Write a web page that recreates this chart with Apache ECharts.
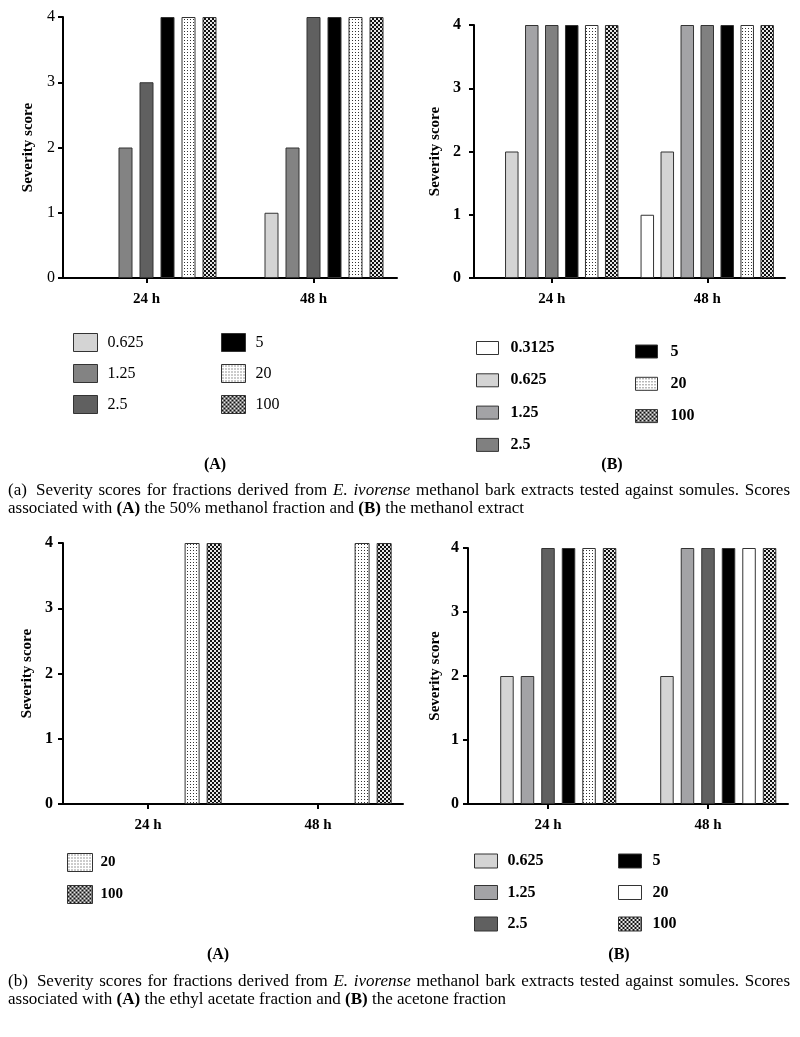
<!DOCTYPE html>
<html><head><meta charset="utf-8">
<script src="https://cdn.jsdelivr.net/npm/echarts@6/dist/echarts.min.js"></script>
<style>html,body{margin:0;padding:0;background:#fff}#c{width:800px;height:1037px}</style>
</head><body><div id="c"></div>
<script>
// ---------------- data ----------------
const categories = ['24 h', '48 h'];
const concentrations = ['0.3125', '0.625', '1.25', '2.5', '5', '20', '100'];
const yTicks = [0, 1, 2, 3, 4];
// severity score per concentration: [24 h, 48 h]
const scores50Methanol    = [[0, 0], [0, 1], [2, 2], [3, 4], [4, 4], [4, 4], [4, 4]];
const scoresMethanolExtr  = [[0, 1], [2, 2], [4, 4], [4, 4], [4, 4], [4, 4], [4, 4]];
const scoresEthylAcetate  = [[0, 0], [0, 0], [0, 0], [0, 0], [0, 0], [4, 4], [4, 4]];
const scoresAcetone       = [[0, 0], [2, 2], [2, 4], [4, 4], [4, 4], [4, 4], [4, 4]];
const panelLabels = ['(A)', '(B)', '(A)', '(B)'];

// ---------------- styling helpers ----------------
const SERIF = '"Liberation Serif", "Times New Roman", serif';
function pattern(kind) {
  const c = document.createElement('canvas');
  const g = c.getContext('2d');
  if (kind === 'dots') {
    c.width = 3; c.height = 3;
    g.fillStyle = '#ffffff'; g.fillRect(0, 0, 3, 3);
    g.fillStyle = '#333333'; g.fillRect(1, 1, 1, 1);
  } else {
    c.width = 4; c.height = 4;
    g.fillStyle = '#111111'; g.fillRect(0, 0, 4, 4);
    g.fillStyle = '#e6e6e6'; g.fillRect(0, 0, 2, 2); g.fillRect(2, 2, 2, 2);
  }
  return { image: c, repeat: 'repeat' };
}
const DOTS = pattern('dots');
const CHECK = pattern('check');

const panels = [
  { key: 'aA', values: scores50Methanol,
    grid: { left: 63, top: 17, width: 334, height: 261 }, barWidth: 14, barGap: '50%',
    fills: ['#ffffff', '#d4d4d4', '#838383', '#606060', '#000000', DOTS, CHECK],
    yBold: false, yMargin: 8, nameGap: 27,
    legendFont: { size: 16, weight: 'normal' },
    legends: [ { idx: [1, 2, 3], left: 73, top: 333, w: 24, h: 18, gap: 12, pad: 5 },
               { idx: [4, 5, 6], left: 221, top: 333, w: 24, h: 18, gap: 12, pad: 5 } ],
    label: [215, 465] },
  { key: 'aB', values: scoresMethanolExtr,
    grid: { left: 474, top: 25, width: 311, height: 253 }, barWidth: 13.5, barGap: '48%',
    fills: ['#ffffff', '#d4d4d4', '#a3a3a6', '#808080', '#000000', DOTS, CHECK],
    yBold: true, yMargin: 13, nameGap: 31,
    legendFont: { size: 16, weight: 'bold' },
    legends: [ { idx: [0, 1, 2, 3], left: 476, top: 340, w: 22, h: 13, gap: 16.3, pad: 7 },
               { idx: [4, 5, 6], left: 635, top: 343.5, w: 22, h: 13, gap: 16.3, pad: 8 } ],
    label: [612, 465] },
  { key: 'bA', values: scoresEthylAcetate,
    grid: { left: 63, top: 543, width: 340, height: 261 }, barWidth: 15, barGap: '47%',
    fills: ['#ffffff', '#d4d4d4', '#a3a3a6', '#606060', '#000000', DOTS, CHECK],
    yBold: true, yMargin: 10, nameGap: 28,
    legendFont: { size: 15, weight: 'bold' },
    legends: [ { idx: [5, 6], left: 67, top: 853, w: 25, h: 18, gap: 13, pad: 3 } ],
    label: [218, 955] },
  { key: 'bB', values: scoresAcetone,
    grid: { left: 468, top: 548, width: 320, height: 256 }, barWidth: 13.5, barGap: '52%',
    fills: ['#ffffff', '#d4d4d4', '#a3a3a6', '#606060', '#000000', '#ffffff', CHECK],
    itemFill: { '5-0': DOTS },   // the 24 h bar of "20" is drawn dotted in the source
    yBold: true, yMargin: 9, nameGap: 25,
    legendFont: { size: 16, weight: 'bold' },
    legends: [ { idx: [1, 2, 3], left: 474, top: 853, w: 23, h: 14, gap: 15.5, pad: 5 },
               { idx: [4, 5, 6], left: 618, top: 853, w: 23, h: 14, gap: 15.5, pad: 6 } ],
    label: [619, 955] }
];

// ---------------- build option ----------------
const grids = [], xAxes = [], yAxes = [], series = [], legends = [], graphics = [];
panels.forEach((p, i) => {
  grids.push(Object.assign({ containLabel: false }, p.grid));
  xAxes.push({
    type: 'category', gridIndex: i, data: categories,
    axisLine: { show: true, lineStyle: { color: '#000', width: 2 } },
    axisTick: { show: true, alignWithLabel: true, length: 5, lineStyle: { color: '#000', width: 2 } },
    axisLabel: { fontFamily: SERIF, fontSize: 15, fontWeight: 'bold', color: '#000', margin: 14 },
    splitLine: { show: false }
  });
  yAxes.push({
    type: 'value', gridIndex: i, min: yTicks[0], max: yTicks[yTicks.length - 1], interval: 1,
    axisLine: { show: true, lineStyle: { color: '#000', width: 2 } },
    axisTick: { show: true, length: 5, lineStyle: { color: '#000', width: 2 } },
    axisLabel: { fontFamily: SERIF, fontSize: 16, fontWeight: p.yBold ? 'bold' : 'normal', color: '#000', margin: p.yMargin },
    splitLine: { show: false },
    name: 'Severity score', nameLocation: 'middle', nameGap: p.nameGap,
    nameTextStyle: { fontFamily: SERIF, fontSize: 15, fontWeight: 'bold', color: '#000' }
  });
  concentrations.forEach((c, j) => {
    series.push({
      type: 'bar', name: p.key + '|' + c, xAxisIndex: i, yAxisIndex: i,
      barWidth: p.barWidth, barGap: p.barGap,
      itemStyle: { color: p.fills[j], borderColor: '#333', borderWidth: 1 },
      emphasis: { disabled: true },
      data: p.values[j].map((v, k) => {
        const it = { value: v };
        const over = p.itemFill && p.itemFill[j + '-' + k];
        if (v === 0) it.itemStyle = { borderWidth: 0 };
        else if (over) it.itemStyle = { color: over };
        return it;
      })
    });
  });
  p.legends.forEach(L => {
    legends.push({
      orient: 'vertical', left: L.left, top: L.top, padding: 0,
      itemWidth: L.w, itemHeight: L.h, itemGap: L.gap, icon: 'rect', selectedMode: false,
      itemStyle: { borderWidth: 1, borderColor: '#333' },
      data: L.idx.map(j => p.key + '|' + concentrations[j]),
      formatter: n => n.split('|')[1],
      textStyle: { fontFamily: SERIF, fontSize: p.legendFont.size, fontWeight: p.legendFont.weight, color: '#000', padding: [0, 0, 0, L.pad] }
    });
  });
  graphics.push({ type: 'text', x: p.label[0], y: p.label[1],
    style: { text: panelLabels[i], align: 'center', verticalAlign: 'middle', font: 'bold 16px ' + SERIF, fill: '#000' } });
});

// ---------------- captions (justified first line) ----------------
const CAP = 17;
const mctx = document.createElement('canvas').getContext('2d');
function fontOf(s) { return (s === 'i' ? 'italic ' : s === 'b' ? 'bold ' : '') + CAP + 'px "Liberation Serif"'; }
function measure(t, s) { mctx.font = fontOf(s); return mctx.measureText(t).width; }
const richBase = {
  r: { fontFamily: SERIF, fontSize: CAP, fill: '#000' },
  i: { fontFamily: SERIF, fontSize: CAP, fontStyle: 'italic', fill: '#000' },
  b: { fontFamily: SERIF, fontSize: CAP, fontWeight: 'bold', fill: '#000' }
};
function justified(tokens, width, lead) {
  const total = tokens.reduce((s, t) => s + measure(t[0], t[1]), 0);
  const g = (width - total) / (tokens.length - 2 + lead);
  let str = '';
  tokens.forEach((t, k) => {
    if (k > 0) str += (k === 1 ? '{sp1| }' : '{sp| }');
    str += '{' + t[1] + '|' + t[0] + '}';
  });
  return { text: str, rich: Object.assign({}, richBase, { sp: { width: g, fontSize: CAP }, sp1: { width: g * lead, fontSize: CAP } }) };
}
function line1(tag) {
  const w = ['Severity', 'scores', 'for', 'fractions', 'derived', 'from'].map(x => [x, 'r']);
  return [[tag, 'r']].concat(w, [['E.', 'i'], ['ivorense', 'i']],
    ['methanol', 'bark', 'extracts', 'tested', 'against', 'somules.', 'Scores'].map(x => [x, 'r']));
}
const capA1 = justified(line1('(a)'), 782, 1.6);
const capB1 = justified(line1('(b)'), 782, 1.6);
const capA2 = '{r|associated with }{b|(A)}{r| the 50% methanol fraction and }{b|(B)}{r| the methanol extract}';
const capB2 = '{r|associated with }{b|(A)}{r| the ethyl acetate fraction and }{b|(B)}{r| the acetone fraction}';
[[capA1.text, capA1.rich, 491], [capA2, richBase, 509], [capB1.text, capB1.rich, 982], [capB2, richBase, 1000]]
  .forEach(([t, rich, y]) => graphics.push({ type: 'text', x: 8, y: y,
    style: { text: t, rich: rich, verticalAlign: 'middle', align: 'left', font: CAP + 'px ' + SERIF, fill: '#000' } }));

const chart = echarts.init(document.getElementById('c'), null, { renderer: 'canvas' });
chart.setOption({
  animation: false,
  backgroundColor: '#fff',
  grid: grids, xAxis: xAxes, yAxis: yAxes, series: series, legend: legends,
  graphic: graphics
});
</script></body></html>
